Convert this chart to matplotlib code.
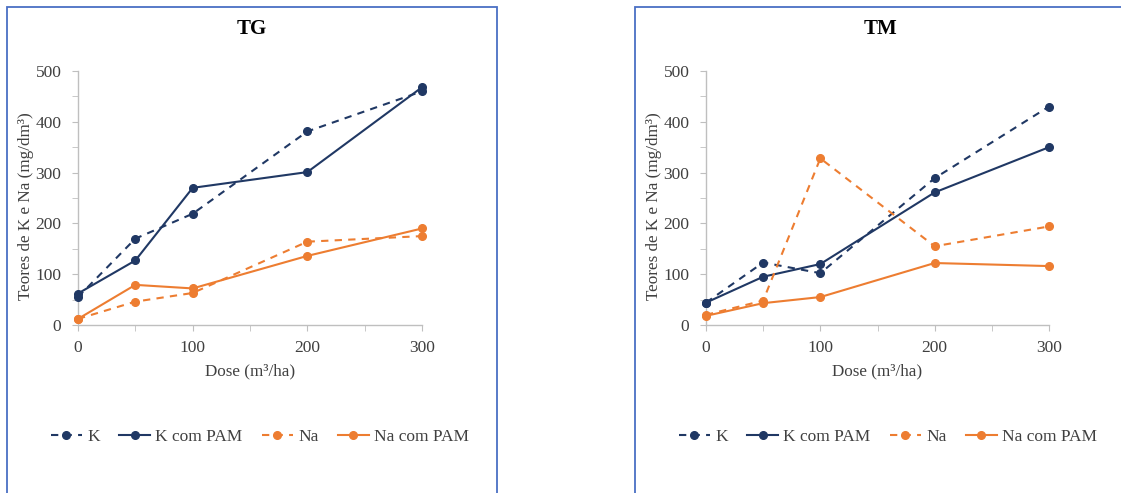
import matplotlib
matplotlib.use("Agg")
import matplotlib.pyplot as plt
from matplotlib.patches import Rectangle
from matplotlib.ticker import MultipleLocator

plt.rcParams['font.family'] = ['Liberation Serif', 'DejaVu Serif']

dose = [0, 50, 100, 200, 300]

# TG panel
tg_k = [55, 170, 219, 381, 460]
tg_k_pam = [62, 127, 270, 301, 468]
tg_na = [12, 46, 63, 164, 175]
tg_na_pam = [12, 79, 72, 136, 190]

# TM panel
tm_k = [44, 123, 102, 289, 430]
tm_k_pam = [44, 95, 120, 261, 350]
tm_na = [20, 48, 328, 155, 194]
tm_na_pam = [18, 43, 55, 122, 116]

titles = ["TG", "TM"]
series_names = ["K", "K com PAM", "Na", "Na com PAM"]

NAVY = "#203864"
ORANGE = "#ED7D31"
BORDER = "#4A6FC4"
SPINE = "#BFBFBF"
TXT = "#404040"

W, H = 1121, 493
fig = plt.figure(figsize=(W / 100, H / 100), dpi=100)
fig.patch.set_facecolor("white")

def fx(px):
    return px / W

def fy(py):
    return 1 - py / H

panels = [
    dict(title=titles[0], data=[tg_k, tg_k_pam, tg_na, tg_na_pam], box=(7, 497),
         ax=(78, 422), tx=252, lx=260),
    dict(title=titles[1], data=[tm_k, tm_k_pam, tm_na, tm_na_pam], box=(635, 1125),
         ax=(706, 1049), tx=880, lx=888),
]

styles = [
    dict(color=NAVY, ls=(0, (3.5, 3))),
    dict(color=NAVY, ls="-"),
    dict(color=ORANGE, ls=(0, (3.5, 3))),
    dict(color=ORANGE, ls="-"),
]

for p in panels:
    bx0, bx1 = p["box"]
    rect = Rectangle((fx(bx0), fy(495)), fx(bx1 - bx0), fy(7) - fy(495),
                     transform=fig.transFigure, fill=False, edgecolor=BORDER,
                     linewidth=1.3, zorder=0)
    fig.patches.append(rect)

    ax0, ax1 = p["ax"]
    ax = fig.add_axes([fx(ax0), fy(325), fx(ax1 - ax0), fy(71) - fy(325)])
    handles = []
    for vals, st, name in zip(p["data"], styles, series_names):
        h, = ax.plot(dose, vals, color=st["color"], linestyle=st["ls"], linewidth=1.5,
                     marker="o", markersize=5.5, label=name, clip_on=False, zorder=3)
        handles.append(h)
    ax.set_xlim(0, 300)
    ax.set_ylim(0, 500)
    ax.xaxis.set_major_locator(MultipleLocator(100))
    ax.xaxis.set_minor_locator(MultipleLocator(50))
    ax.yaxis.set_major_locator(MultipleLocator(100))
    ax.yaxis.set_minor_locator(MultipleLocator(50))
    for s in ["top", "right"]:
        ax.spines[s].set_visible(False)
    for s in ["left", "bottom"]:
        ax.spines[s].set_color(SPINE)
        ax.spines[s].set_linewidth(1.0)
    ax.tick_params(axis="both", which="both", color=SPINE, direction="out", length=4)
    ax.tick_params(axis="y", which="major", labelsize=12.5, labelcolor=TXT, pad=8)
    ax.tick_params(axis="x", which="major", labelsize=12.5, labelcolor=TXT, pad=7)
    ax.set_xlabel("Dose (m³/ha)", fontsize=12.3, color=TXT, labelpad=5)
    ax.set_ylabel("Teores de K e Na (mg/dm³)", fontsize=12.3, color=TXT)
    ax.yaxis.set_label_coords(-52 / (ax1 - ax0), (325 - 206) / 254)
    ax.yaxis.label.set_va("center")
    ax.set_facecolor("none")

    fig.text(fx(p["tx"]), fy(29), p["title"], ha="center", va="center",
             fontsize=15, fontweight="bold", color="black")

    fig.legend(handles=handles, loc="center", bbox_to_anchor=(fx(p["lx"]), fy(437)),
               ncol=4, frameon=False, fontsize=12.5, handlelength=1.8,
               columnspacing=1.1, handletextpad=0.3, labelcolor=TXT,
               borderpad=0, borderaxespad=0)

fig.savefig("out.png", dpi=100, facecolor="white")
